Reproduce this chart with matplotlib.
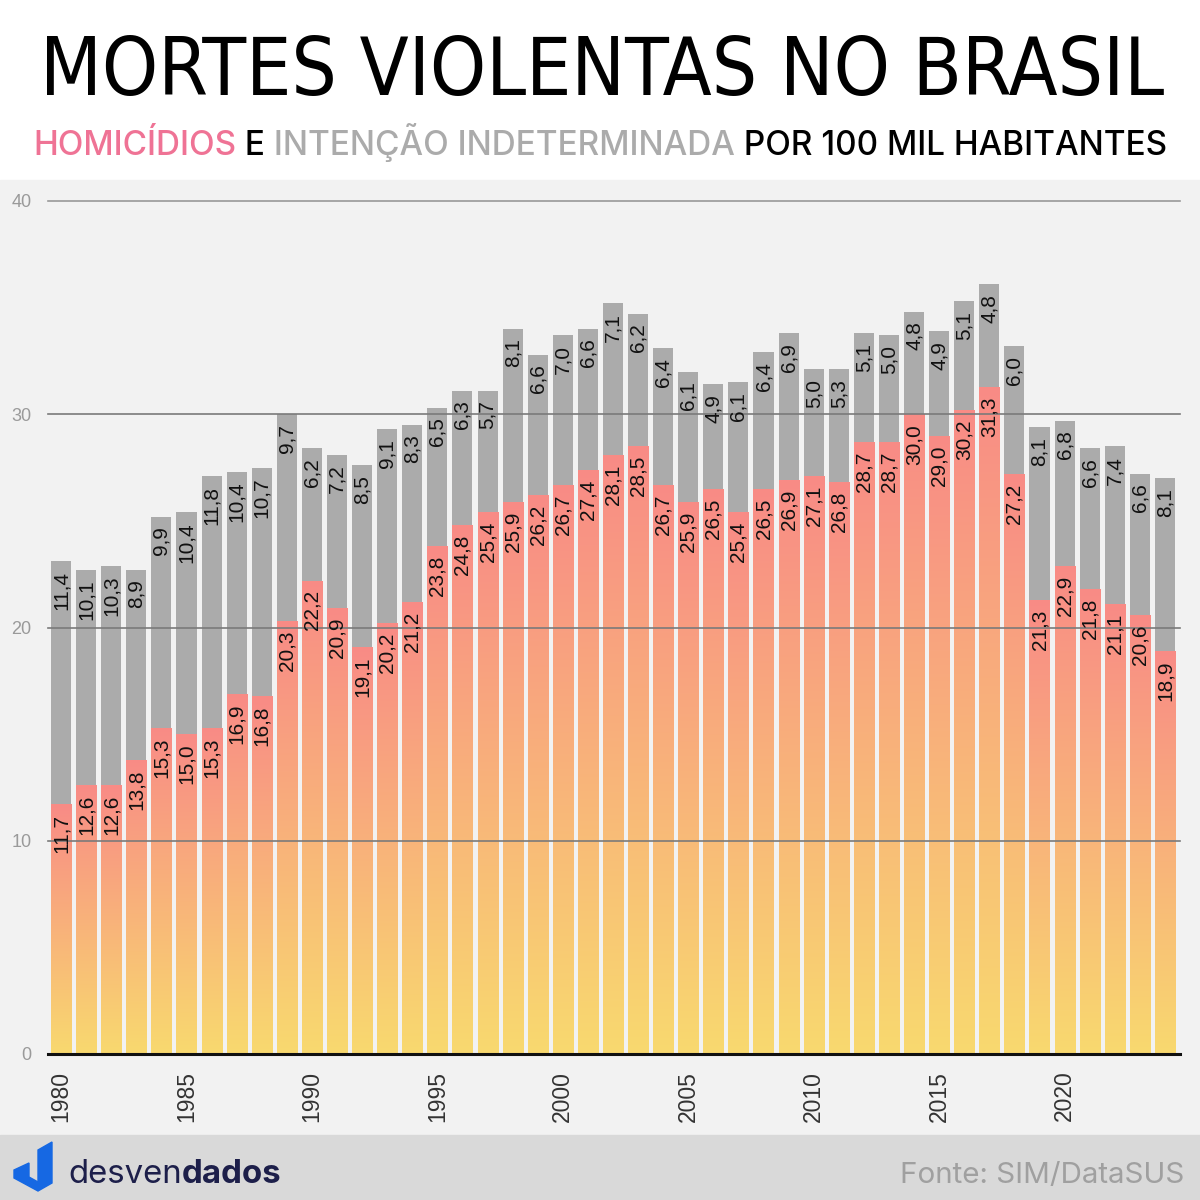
import numpy as np
import matplotlib
matplotlib.use('Agg')
import matplotlib.pyplot as plt
from matplotlib import font_manager
from matplotlib.colors import LinearSegmentedColormap
from matplotlib.patches import Polygon, Rectangle

# dados (taxa por 100 mil habitantes)
years = list(range(1980, 2025))
homicidios = [11.7, 12.6, 12.6, 13.8, 15.3, 15.0, 15.3, 16.9, 16.8, 20.3,
              22.2, 20.9, 19.1, 20.2, 21.2, 23.8, 24.8, 25.4, 25.9, 26.2,
              26.7, 27.4, 28.1, 28.5, 26.7, 25.9, 26.5, 25.4, 26.5, 26.9,
              27.1, 26.8, 28.7, 28.7, 30.0, 29.0, 30.2, 31.3, 27.2, 21.3,
              22.9, 21.8, 21.1, 20.6, 18.9]
indeterminada = [11.4, 10.1, 10.3, 8.9, 9.9, 10.4, 11.8, 10.4, 10.7, 9.7,
                 6.2, 7.2, 8.5, 9.1, 8.3, 6.5, 6.3, 5.7, 8.1, 6.6,
                 7.0, 6.6, 7.1, 6.2, 6.4, 6.1, 4.9, 6.1, 6.4, 6.9,
                 5.0, 5.3, 5.1, 5.0, 4.8, 4.9, 5.1, 4.8, 6.0, 8.1,
                 6.8, 6.6, 7.4, 6.6, 8.1]
yticks = [0, 10, 20, 30, 40]

W = H = 1200


def fx(px):
    return px / W


def fy(py):
    return 1 - py / H


def fmt(v):
    return f"{v:.1f}".replace('.', ',')


# procura uma fonte condensada instalada para o titulo
def condensed_font():
    for f in font_manager.fontManager.ttflist:
        name = f.name.lower()
        if ('narrow' in name or 'condensed' in name or 'condensed' in str(f.stretch)) \
                and f.style == 'normal' and f.weight in (400, 500, 'normal', 'regular', 'medium'):
            return font_manager.FontProperties(fname=f.fname)
    return font_manager.FontProperties(family='Roboto')


fig = plt.figure(figsize=(12, 12), dpi=100)
fig.patches.append(Rectangle((0, 0), 1, 1, transform=fig.transFigure,
                             color='white', zorder=-10))
fig.patches.append(Rectangle((0, fy(1135)), 1, fy(180) - fy(1135),
                             transform=fig.transFigure, color='#F2F2F2', zorder=-9))
fig.patches.append(Rectangle((0, 0), 1, fy(1135), transform=fig.transFigure,
                             color='#D9D9D9', zorder=-9))

ax = fig.add_axes([fx(48), fy(1054), fx(1180) - fx(48), fy(201) - fy(1054)])
ax.patch.set_alpha(0)

x = np.arange(len(years))
bw = 0.8
cmap = LinearSegmentedColormap.from_list('grad', ['#F8D96F', '#F98B86'])
grad = np.linspace(0, 1, 256).reshape(-1, 1)

bars = ax.bar(x, homicidios, width=bw, color='none', edgecolor='none', zorder=1)
for b in bars:
    im = ax.imshow(grad, extent=[b.get_x(), b.get_x() + b.get_width(), 0, b.get_height()],
                   origin='lower', aspect='auto', cmap=cmap, zorder=1)
    im.set_clip_path(b)
ax.bar(x, indeterminada, bottom=homicidios, width=bw, color='#ABABAB', zorder=1)

for v in yticks[1:]:
    c = '#999999' if v == 40 else '#7A7A7A'
    ax.axhline(v, color=c, lw=1.2, zorder=3, clip_on=False)
ax.axhline(0, color='#111111', lw=2.2, zorder=4, clip_on=False)

for i in range(len(years)):
    h = homicidios[i]
    g = indeterminada[i]
    ax.text(x[i], h - 0.45, fmt(h), rotation=90, ha='center', va='top',
            fontsize=15, family='Liberation Sans', color='#111', zorder=5)
    ax.text(x[i], h + g - 0.45, fmt(g), rotation=90, ha='center', va='top',
            fontsize=15, family='Liberation Sans', color='#111', zorder=5)

ax.set_xlim(-0.52, len(years) - 0.4)
ax.set_ylim(0, 40)
ax.set_xticks(x[::5])
ax.set_xticklabels([str(y) for y in years[::5]], rotation=90, fontsize=16.5,
                   color='#333333', family='Liberation Sans')
ax.set_yticks(yticks)
ax.set_yticklabels([str(v) for v in yticks], fontsize=13, color='#9A9A9A',
                   family='Liberation Sans')
ax.tick_params(axis='x', length=0, pad=12)
ax.tick_params(axis='y', length=0, pad=12)
for s in ax.spines.values():
    s.set_visible(False)

renderer = fig.canvas.get_renderer()


def fit_text(pieces, x0, y0, width, font):
    # pieces: (texto, cor, peso); ajusta o tamanho para caber na largura
    base = 20
    objs = []
    for txt, col, wt in pieces:
        if isinstance(font, font_manager.FontProperties):
            fp = font.copy()
        else:
            fp = font_manager.FontProperties(family=font, weight=wt)
        fp.set_size(base)
        t = fig.text(0, 0, txt, fontproperties=fp, color=col,
                     va='baseline', ha='left')
        objs.append(t)
    total = sum(t.get_window_extent(renderer).width for t in objs)
    size = base * width / total
    cur = x0
    for t in objs:
        t.set_fontsize(size)
        t.set_position((fx(cur), fy(y0)))
        cur += t.get_window_extent(renderer).width
    return objs


fit_text([('MORTES VIOLENTAS NO BRASIL', 'black', 'normal')], 40, 95, 1125,
         condensed_font())
fit_text([('HOMICÍDIOS', '#EF7395', 'medium'),
          (' E', 'black', 'medium'),
          (' INTENÇÃO INDETERMINADA', '#ABABAB', 'medium'),
          (' POR 100 MIL HABITANTES', 'black', 'medium')], 33, 155, 1135, 'Inter')
fit_text([('desven', '#1D1F4A', 'normal'), ('dados', '#1D1F4A', 'bold')],
         68, 1183, 214, 'Inter')
fit_text([('Fonte: SIM/DataSUS', '#A0A0A0', 'normal')], 900, 1183, 285, 'Inter')

# logo
left_piece = [(14, 1170), (29, 1163), (29, 1177), (38, 1182), (38, 1191), (14, 1178)]
right_piece = [(38, 1150), (52, 1142), (52, 1183), (38, 1191)]
for pts in (left_piece, right_piece):
    fig.patches.append(Polygon([(fx(a), fy(b)) for a, b in pts], closed=True,
                               transform=fig.transFigure, color='#1668E3', zorder=5))

fig.savefig('out.png', dpi=100)
